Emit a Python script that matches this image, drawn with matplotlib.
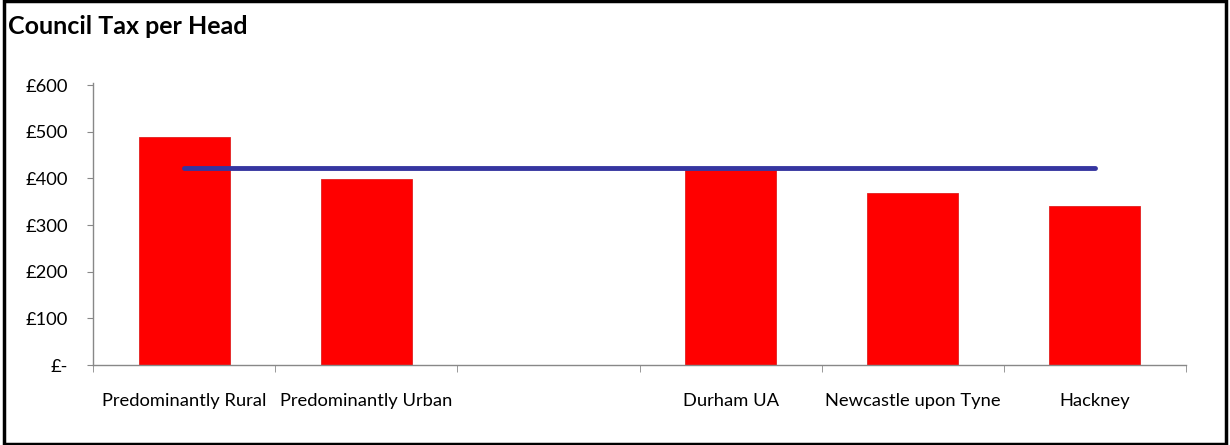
import matplotlib.pyplot as plt
from matplotlib.patches import Rectangle
import numpy as np

categories = ['Predominantly Rural', 'Predominantly Urban', '', 'Durham UA',
              'Newcastle upon Tyne', 'Hackney']
tax_per_head = [489, 399, np.nan, 418, 369, 341]
average_line = [422, 422, 422, 422, 422, 422]
y_ticks = [0, 100, 200, 300, 400, 500, 600]
y_labels = ['£-', '£100', '£200', '£300', '£400', '£500', '£600']

plt.rcParams['font.family'] = ['Lato', 'DejaVu Sans']

fig = plt.figure(figsize=(12.3, 4.45), dpi=100)
ax = fig.add_axes([93 / 1230, 80 / 445, (1186 - 93) / 1230, 280 / 445 * 605 / 600])

x = np.arange(len(categories))
ax.bar(x, tax_per_head, width=0.5, color='#ff0000', edgecolor='#e02020', linewidth=0.6, zorder=2)
ax.plot(x, average_line, color='#3535a0', linewidth=3.5, solid_capstyle='round', zorder=3)

ax.set_xlim(-0.5, len(categories) - 0.5)
ax.set_ylim(0, 605)
ax.set_yticks(y_ticks)
ax.set_yticklabels(y_labels, fontsize=13.2)
ax.set_xticks(x)
ax.set_xticklabels(categories, fontsize=13.2)
ax.set_xticks(np.arange(-0.5, len(categories)), minor=True)
ax.tick_params(axis='x', which='major', length=0, pad=20)
ax.tick_params(axis='x', which='minor', length=5, color='#888888', direction='out')
ax.tick_params(axis='y', length=4, color='#888888', pad=14)

for side in ['top', 'right']:
    ax.spines[side].set_visible(False)
for side in ['left', 'bottom']:
    ax.spines[side].set_color('#888888')
    ax.spines[side].set_linewidth(1)

fig.text(8 / 1230, 1 - 26 / 445, 'Council Tax per Head', fontsize=18, fontweight='bold',
         va='center', ha='left')

fig.patches.append(Rectangle((0.003, 0.003), 0.994, 0.994, transform=fig.transFigure,
                             fill=False, edgecolor='black', linewidth=2.5))

fig.savefig('out.png', dpi=100)
